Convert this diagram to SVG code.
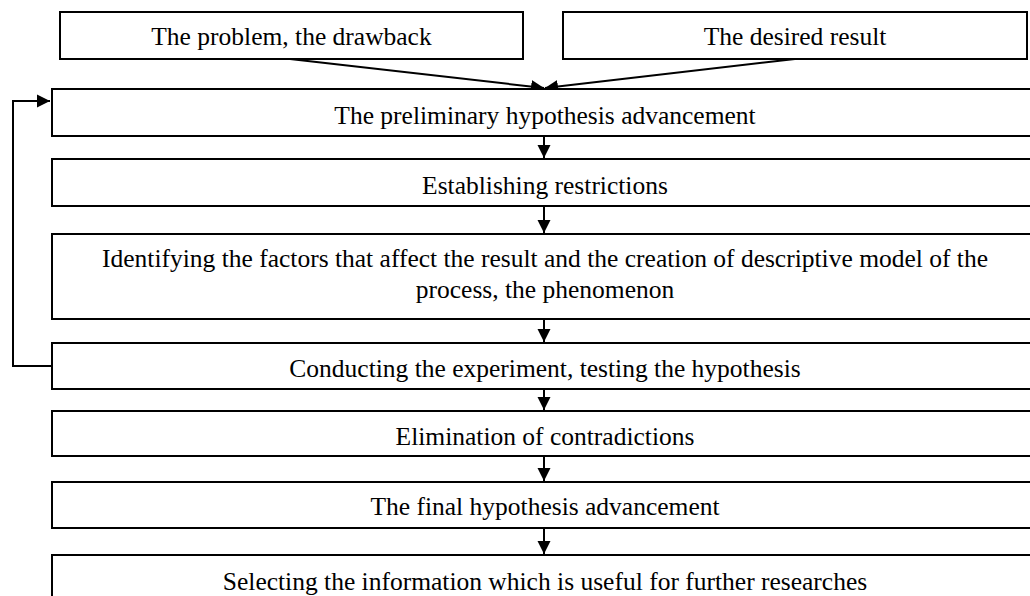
<svg xmlns="http://www.w3.org/2000/svg" width="1030" height="596" viewBox="0 0 1030 596">
<style>
.box{fill:#fff;stroke:#000;stroke-width:2}
.t{font-family:"Liberation Serif","Times New Roman",serif;font-size:25.5px;fill:#000;text-anchor:middle}
.c{fill:none;stroke:#000;stroke-width:2}
</style>
<defs>
<marker id="ah" markerUnits="userSpaceOnUse" markerWidth="14" markerHeight="14" refX="13" refY="6.5" orient="auto" viewBox="0 0 14 13">
<path d="M0,0 L13,6.5 L0,13 z" fill="#000"/>
</marker>
</defs>
<rect width="1030" height="596" fill="#fff"/>
<g id="connectors">
<line class="c" x1="290" y1="59" x2="544" y2="88" marker-end="url(#ah)"/>
<line class="c" x1="795" y1="59" x2="545" y2="88" marker-end="url(#ah)"/>
<line class="c" x1="544" y1="136" x2="544" y2="158" marker-end="url(#ah)"/>
<line class="c" x1="544" y1="206" x2="544" y2="233" marker-end="url(#ah)"/>
<line class="c" x1="544" y1="319" x2="544" y2="342" marker-end="url(#ah)"/>
<line class="c" x1="544" y1="389" x2="544" y2="410" marker-end="url(#ah)"/>
<line class="c" x1="544" y1="456" x2="544" y2="481" marker-end="url(#ah)"/>
<line class="c" x1="544" y1="528" x2="544" y2="554" marker-end="url(#ah)"/>
<polyline class="c" points="52,366 13,366 13,101 50,101" marker-end="url(#ah)"/>
</g>
<g id="n-problem"><rect class="box" x="60" y="12" width="463" height="47"/><text class="t" x="291.5" y="45">The problem, the drawback</text></g>
<g id="n-desired"><rect class="box" x="563" y="12" width="464" height="47"/><text class="t" x="795" y="45">The desired result</text></g>
<g id="n-prelim"><rect class="box" x="52" y="89" width="986" height="47"/><text class="t" x="545" y="124">The preliminary hypothesis advancement</text></g>
<g id="n-restrict"><rect class="box" x="52" y="159" width="986" height="47"/><text class="t" x="545" y="194">Establishing restrictions</text></g>
<g id="n-factors"><rect class="box" x="52" y="234" width="986" height="85"/><text class="t" x="545" y="267">Identifying the factors that affect the result and the creation of descriptive model of the</text><text class="t" x="545" y="298">process, the phenomenon</text></g>
<g id="n-experiment"><rect class="box" x="52" y="343" width="986" height="46"/><text class="t" x="545" y="377">Conducting the experiment, testing the hypothesis</text></g>
<g id="n-elim"><rect class="box" x="52" y="411" width="986" height="45"/><text class="t" x="545" y="445">Elimination of contradictions</text></g>
<g id="n-final"><rect class="box" x="52" y="482" width="986" height="46"/><text class="t" x="545" y="515">The final hypothesis advancement</text></g>
<g id="n-select"><rect class="box" x="52" y="555" width="986" height="46"/><text class="t" x="545" y="590">Selecting the information which is useful for further researches</text></g>
</svg>
